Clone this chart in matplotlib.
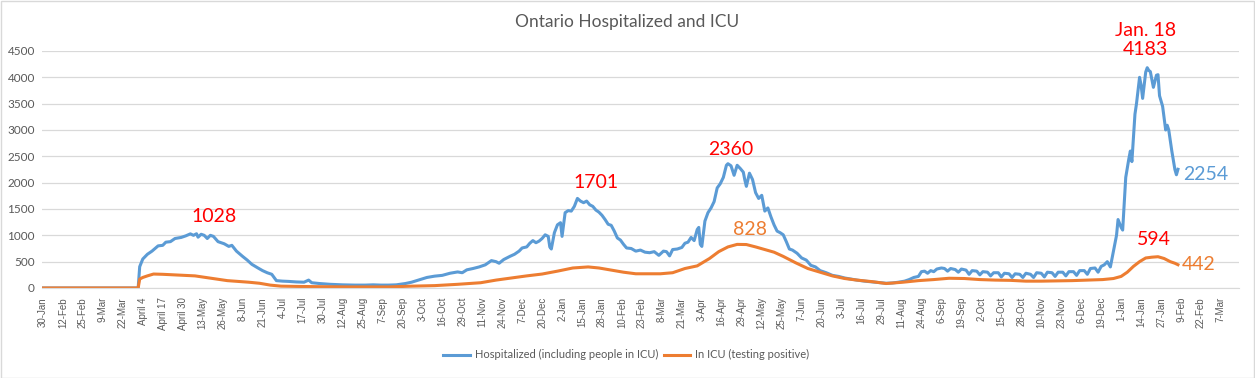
import matplotlib
matplotlib.use('Agg')
import matplotlib.pyplot as plt
import numpy as np
import pandas as pd
from matplotlib.patches import Rectangle

# first day on the category axis (one category per day)
start_date = '2020-01-30'

# axis labels, one every 13 days
tick_labels = ['30-Jan', '12-Feb', '25-Feb', '9-Mar', '22-Mar', 'April 4', 'April 17', 'April 30',
               '13-May', '26-May', '8-Jun', '21-Jun', '4-Jul', '17-Jul', '30-Jul', '12-Aug', '25-Aug',
               '7-Sep', '20-Sep', '3-Oct', '16-Oct', '29-Oct', '11-Nov', '24-Nov', '7-Dec', '20-Dec',
               '2-Jan', '15-Jan', '28-Jan', '10-Feb', '23-Feb', '8-Mar', '21-Mar', '3-Apr', '16-Apr',
               '29-Apr', '12-May', '25-May', '7-Jun', '20-Jun', '3-Jul', '16-Jul', '29-Jul', '11-Aug',
               '24-Aug', '6-Sep', '19-Sep', '2-Oct', '15-Oct', '28-Oct', '10-Nov', '23-Nov', '6-Dec',
               '19-Dec', '1-Jan', '14-Jan', '27-Jan', '9-Feb', '22-Feb', '7-Mar']

# Hospitalized (including people in ICU)
hosp_dates = [
    '2020-01-30', '2020-04-01', '2020-04-02', '2020-04-04', '2020-04-07', '2020-04-10', '2020-04-14',
    '2020-04-17', '2020-04-19', '2020-04-22', '2020-04-25', '2020-04-29', '2020-05-02', '2020-05-05',
    '2020-05-07', '2020-05-09', '2020-05-10', '2020-05-12', '2020-05-14', '2020-05-16', '2020-05-18',
    '2020-05-20', '2020-05-23', '2020-05-27', '2020-05-30', '2020-06-01', '2020-06-04', '2020-06-08',
    '2020-06-11', '2020-06-14', '2020-06-18', '2020-06-21', '2020-06-24', '2020-06-27', '2020-06-30',
    '2020-07-04', '2020-07-08', '2020-07-13', '2020-07-18', '2020-07-21', '2020-07-23', '2020-07-28',
    '2020-08-04', '2020-08-12', '2020-08-20', '2020-08-27', '2020-09-01', '2020-09-06', '2020-09-11',
    '2020-09-16', '2020-09-22', '2020-09-26', '2020-10-01', '2020-10-06', '2020-10-11', '2020-10-16',
    '2020-10-21', '2020-10-26', '2020-10-29', '2020-11-01', '2020-11-05', '2020-11-09', '2020-11-13',
    '2020-11-17', '2020-11-20', '2020-11-22', '2020-11-25', '2020-11-29', '2020-12-02', '2020-12-05',
    '2020-12-07', '2020-12-10', '2020-12-12', '2020-12-14', '2020-12-16', '2020-12-18', '2020-12-20',
    '2020-12-22', '2020-12-24', '2020-12-25', '2020-12-26', '2020-12-28', '2020-12-30', '2021-01-01',
    '2021-01-02', '2021-01-04', '2021-01-06', '2021-01-08', '2021-01-10', '2021-01-12', '2021-01-14',
    '2021-01-16', '2021-01-18', '2021-01-20', '2021-01-22', '2021-01-24', '2021-01-26', '2021-01-28',
    '2021-01-30', '2021-02-01', '2021-02-03', '2021-02-05', '2021-02-07', '2021-02-09', '2021-02-11',
    '2021-02-13', '2021-02-16', '2021-02-19', '2021-02-22', '2021-02-25', '2021-02-28', '2021-03-03',
    '2021-03-06', '2021-03-09', '2021-03-11', '2021-03-13', '2021-03-15', '2021-03-18', '2021-03-21',
    '2021-03-23', '2021-03-25', '2021-03-27', '2021-03-29', '2021-03-31', '2021-04-01', '2021-04-02',
    '2021-04-03', '2021-04-05', '2021-04-07', '2021-04-09', '2021-04-11', '2021-04-13', '2021-04-15',
    '2021-04-17', '2021-04-19', '2021-04-20', '2021-04-22', '2021-04-24', '2021-04-26', '2021-04-28',
    '2021-04-30', '2021-05-01', '2021-05-02', '2021-05-04', '2021-05-06', '2021-05-08', '2021-05-10',
    '2021-05-12', '2021-05-14', '2021-05-16', '2021-05-18', '2021-05-20', '2021-05-22', '2021-05-24',
    '2021-05-26', '2021-05-28', '2021-05-30', '2021-06-01', '2021-06-04', '2021-06-07', '2021-06-10',
    '2021-06-13', '2021-06-16', '2021-06-19', '2021-06-23', '2021-06-27', '2021-07-01', '2021-07-05',
    '2021-07-09', '2021-07-13', '2021-07-18', '2021-07-23', '2021-07-28', '2021-08-01', '2021-08-05',
    '2021-08-09', '2021-08-13', '2021-08-16', '2021-08-19', '2021-08-22', '2021-08-24', '2021-08-26',
    '2021-08-28', '2021-08-30', '2021-09-01', '2021-09-03', '2021-09-06', '2021-09-08', '2021-09-10',
    '2021-09-12', '2021-09-15', '2021-09-17', '2021-09-19', '2021-09-22', '2021-09-24', '2021-09-26',
    '2021-09-29', '2021-10-01', '2021-10-03', '2021-10-06', '2021-10-08', '2021-10-10', '2021-10-13',
    '2021-10-15', '2021-10-17', '2021-10-20', '2021-10-22', '2021-10-24', '2021-10-27', '2021-10-29',
    '2021-10-31', '2021-11-03', '2021-11-05', '2021-11-07', '2021-11-10', '2021-11-12', '2021-11-14',
    '2021-11-17', '2021-11-19', '2021-11-21', '2021-11-24', '2021-11-26', '2021-11-28', '2021-12-01',
    '2021-12-03', '2021-12-05', '2021-12-08', '2021-12-10', '2021-12-12', '2021-12-15', '2021-12-17',
    '2021-12-19', '2021-12-21', '2021-12-23', '2021-12-25', '2021-12-27', '2021-12-29', '2021-12-30',
    '2022-01-01', '2022-01-02', '2022-01-04', '2022-01-06', '2022-01-07', '2022-01-08', '2022-01-10',
    '2022-01-11', '2022-01-13', '2022-01-14', '2022-01-15', '2022-01-17', '2022-01-18', '2022-01-19',
    '2022-01-20', '2022-01-22', '2022-01-24', '2022-01-25', '2022-01-26', '2022-01-28', '2022-01-30',
    '2022-01-31', '2022-02-01', '2022-02-03', '2022-02-05', '2022-02-06', '2022-02-07']
hosp_values = [
    0, 0, 405, 550, 640, 700, 800,
    810, 870, 880, 940, 960, 990, 1028,
    1000, 1030, 965, 1020, 1000, 940, 1000,
    980, 880, 840, 790, 810, 700, 600,
    530, 450, 380, 330, 290, 260, 140,
    130, 125, 115, 110, 150, 100, 85,
    70, 60, 55, 55, 60, 55, 55,
    60, 85, 110, 155, 200, 225, 240,
    280, 305, 290, 345, 370, 400, 440,
    520, 500, 470, 540, 600, 640, 700,
    760, 780, 850, 900, 860, 890, 940,
    1010, 980, 780, 740, 1050, 1200, 1240,
    980, 1430, 1470, 1460, 1550, 1701, 1650,
    1620, 1650, 1580, 1550, 1480, 1440, 1380,
    1300, 1210, 1190, 1080, 950, 910, 830,
    760, 750, 700, 720, 680, 670, 690,
    620, 700, 690, 610, 730, 740, 770,
    850, 870, 960, 900, 1110, 1150, 830,
    790, 1270, 1430, 1520, 1640, 1900, 1980,
    2100, 2330, 2360, 2320, 2140, 2330, 2270,
    2200, 2050, 1930, 2180, 2060, 1810, 1700,
    1760, 1460, 1520, 1350, 1200, 1080, 1050,
    1010, 880, 740, 720, 660, 570, 530,
    430, 400, 330, 290, 240, 220, 190,
    170, 150, 130, 115, 100, 90, 95,
    110, 130, 160, 200, 220, 310, 320,
    280, 330, 310, 360, 380, 370, 320,
    370, 350, 300, 360, 340, 260, 330,
    320, 250, 310, 300, 230, 290, 290,
    210, 280, 270, 200, 270, 260, 200,
    280, 260, 200, 290, 280, 210, 300,
    290, 220, 300, 300, 230, 310, 310,
    240, 330, 330, 260, 370, 380, 300,
    410, 440, 500, 400, 700, 1000, 1300,
    1150, 1100, 2100, 2450, 2600, 2400, 3300,
    3500, 4000, 3850, 3600, 4100, 4183, 4130,
    4110, 3810, 4040, 4050, 3650, 3450, 3000,
    3090, 3000, 2600, 2250, 2150, 2254]

# In ICU (testing positive)
icu_dates = [
    '2020-01-30', '2020-04-01', '2020-04-02', '2020-04-04', '2020-04-07', '2020-04-11', '2020-04-17',
    '2020-04-24', '2020-05-01', '2020-05-08', '2020-05-15', '2020-05-22', '2020-05-29', '2020-06-05',
    '2020-06-12', '2020-06-19', '2020-06-26', '2020-07-03', '2020-07-13', '2020-07-28', '2020-08-17',
    '2020-09-11', '2020-09-26', '2020-10-11', '2020-10-26', '2020-11-10', '2020-11-20', '2020-11-30',
    '2020-12-10', '2020-12-20', '2020-12-30', '2021-01-09', '2021-01-19', '2021-01-26', '2021-02-03',
    '2021-02-11', '2021-02-19', '2021-02-27', '2021-03-07', '2021-03-15', '2021-03-23', '2021-03-31',
    '2021-04-08', '2021-04-14', '2021-04-20', '2021-04-26', '2021-05-02', '2021-05-08', '2021-05-14',
    '2021-05-20', '2021-05-26', '2021-06-03', '2021-06-11', '2021-06-19', '2021-06-27', '2021-07-05',
    '2021-07-13', '2021-07-23', '2021-08-01', '2021-08-12', '2021-08-22', '2021-09-01', '2021-09-11',
    '2021-09-21', '2021-10-01', '2021-10-11', '2021-10-21', '2021-10-31', '2021-11-10', '2021-11-20',
    '2021-11-30', '2021-12-10', '2021-12-20', '2021-12-27', '2022-01-01', '2022-01-05', '2022-01-09',
    '2022-01-13', '2022-01-17', '2022-01-21', '2022-01-25', '2022-01-29', '2022-02-02', '2022-02-05',
    '2022-02-07']
icu_values = [
    0, 0, 170, 200, 230, 265, 260,
    250, 240, 230, 200, 170, 140, 125,
    110, 90, 55, 35, 30, 25, 20,
    20, 35, 45, 70, 100, 150, 190,
    230, 265, 320, 380, 400, 380, 340,
    300, 270, 270, 270, 290, 370, 420,
    560, 690, 780, 828, 825, 780, 730,
    680, 600, 480, 370, 300, 230, 180,
    150, 120, 85, 110, 140, 160, 185,
    180, 160, 150, 145, 130, 130, 135,
    140, 150, 160, 180, 220, 300, 410,
    500, 570, 585, 594, 560, 500, 470,
    442]

# callouts: (series, date, value, text, colour, dx px, dy px, ha)
callouts = [
    ('hosp', '2020-05-05', 1028, '1028', 'red', 24, 17, 'center'),
    ('hosp', '2021-01-12', 1701, '1701', 'red', 19, 16, 'center'),
    ('hosp', '2021-04-20', 2360, '2360', 'red', 3, 14, 'center'),
    ('icu', '2021-04-26', 828, '828', '#ED7D31', 13, 15, 'center'),
    ('hosp', '2022-01-18', 4183, 'Jan. 18\n4183', 'red', -2, 28, 'center'),
    ('icu', '2022-01-25', 594, '594', 'red', -4, 17, 'center'),
    ('hosp', '2022-02-07', 2254, '2254', '#5B9BD5', 5, -5, 'left'),
    ('icu', '2022-02-07', 442, '442', '#ED7D31', 4, 0, 'left'),
]


def day_index(dates):
    """Days since the first category"""
    return (pd.to_datetime(pd.Series(dates)) - pd.Timestamp(start_date)).dt.days.to_numpy()


blue = '#5B9BD5'
orange = '#ED7D31'
grey_text = '#595959'

fig = plt.figure(figsize=(12.55, 3.78), dpi=100)
ax = fig.add_axes([0.0336, 0.2381, 0.9536, 0.627])

ax.plot(day_index(hosp_dates), hosp_values, color=blue, lw=2.2,
        label='Hospitalized (including people in ICU)', solid_joinstyle='round')
ax.plot(day_index(icu_dates), icu_values, color=orange, lw=2.2,
        label='In ICU (testing positive)', solid_joinstyle='round')

# axes look like an Excel chart
ax.set_ylim(0, 4500)
ax.set_xlim(-0.5, 778.7)
ax.set_yticks(np.arange(0, 4501, 500))
ax.yaxis.grid(True, color='#D9D9D9', lw=0.9)
ax.set_axisbelow(True)
for side in ['top', 'right', 'left']:
    ax.spines[side].set_visible(False)
ax.spines['bottom'].set_color('#D9D9D9')

tick_pos = day_index(pd.date_range(start_date, periods=len(tick_labels), freq='13D'))
ax.set_xticks(tick_pos)
ax.set_xticklabels(tick_labels, rotation=90, fontsize=7, color=grey_text, family='Liberation Sans')
ax.tick_params(axis='x', length=0, pad=6.5)
ax.tick_params(axis='y', length=0, pad=5.2, labelsize=8.5, labelcolor=grey_text)
for lbl in ax.get_yticklabels():
    lbl.set_family('Lato')

# callout numbers on the peaks
for series, d, v, text, col, dx, dy, ha in callouts:
    ax.annotate(text, xy=(day_index([d])[0], v), xytext=(dx, dy), textcoords='offset pixels',
                ha=ha, va='center', color=col, fontsize=14, family='Lato', linespacing=1.15)

fig.text(0.5, 0.942, 'Ontario Hospitalized and ICU', ha='center', va='center',
         fontsize=12.5, color=grey_text, family='Lato')

fig.legend(loc='center', bbox_to_anchor=(0.499, 0.061), ncol=2, frameon=False,
           prop={'family': 'Lato', 'size': 8}, handlelength=2.4, handletextpad=0.45,
           columnspacing=0.5, labelcolor=grey_text)

# chart area border
fig.patches.append(Rectangle((0.0005, 0.001), 0.999, 0.997, transform=fig.transFigure,
                             fill=False, edgecolor='#D9D9D9', lw=1))

fig.savefig('out.png', dpi=100)
